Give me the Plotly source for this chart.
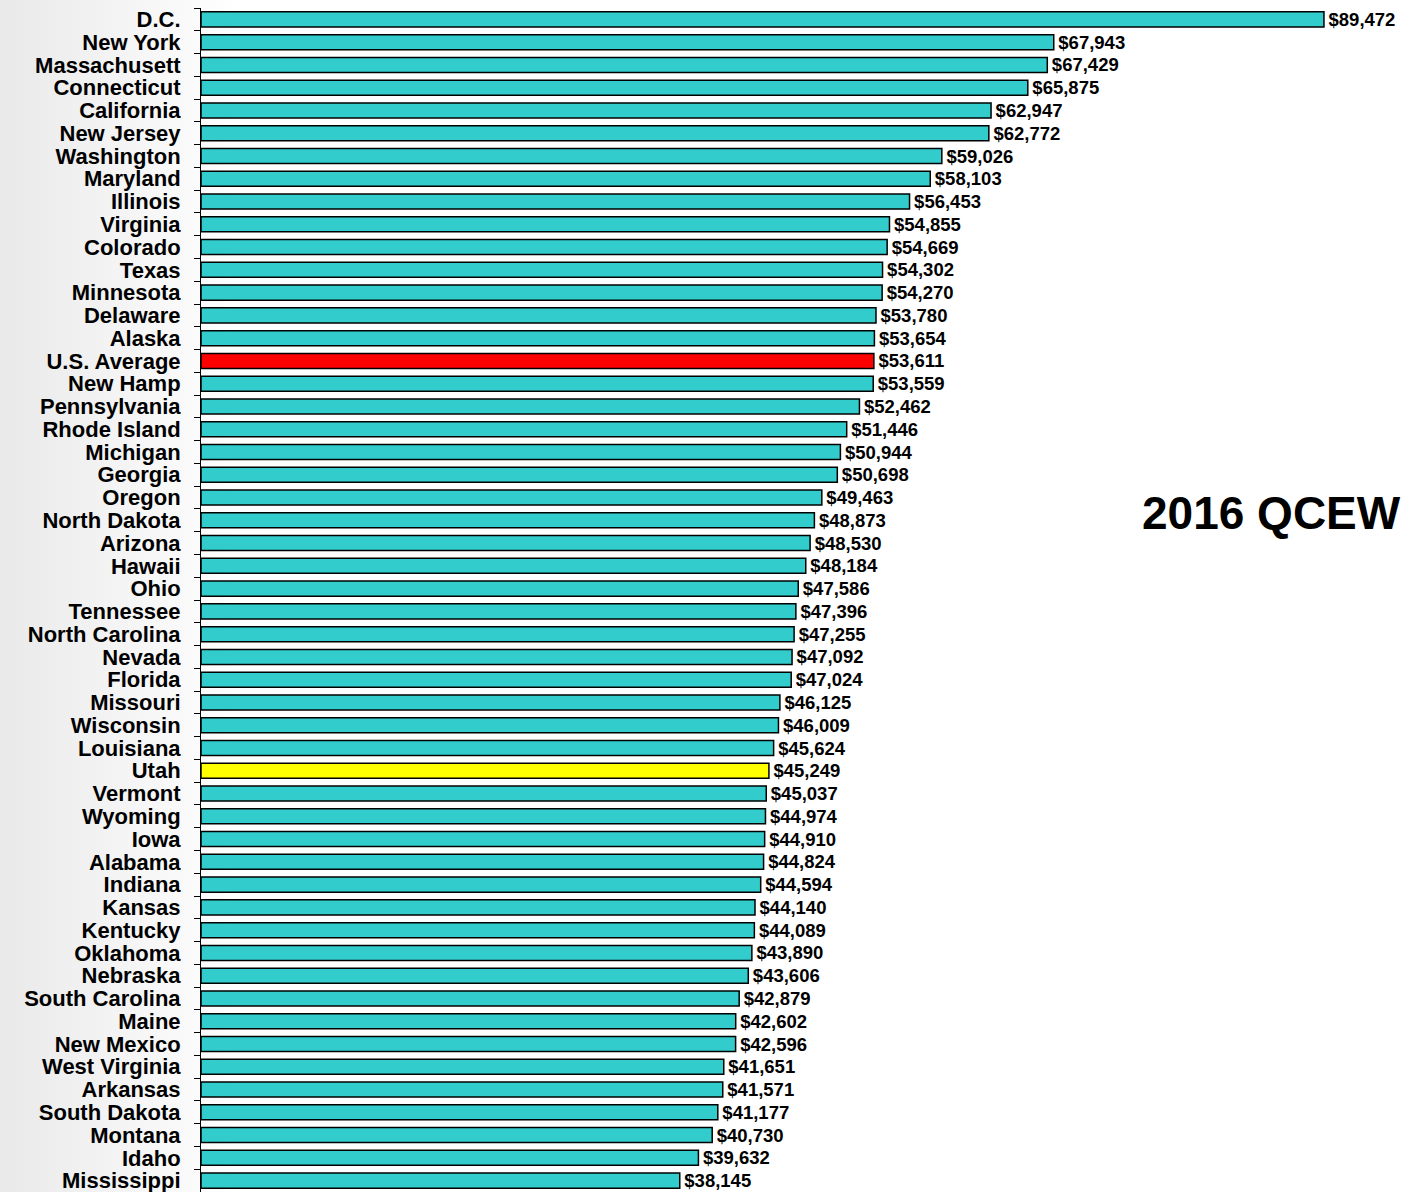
import plotly.graph_objects as go

states = ["D.C.", "New York", "Massachusett", "Connecticut", "California", "New Jersey",
          "Washington", "Maryland", "Illinois", "Virginia", "Colorado", "Texas", "Minnesota",
          "Delaware", "Alaska", "U.S. Average", "New Hamp", "Pennsylvania", "Rhode Island",
          "Michigan", "Georgia", "Oregon", "North Dakota", "Arizona", "Hawaii", "Ohio",
          "Tennessee", "North Carolina", "Nevada", "Florida", "Missouri", "Wisconsin",
          "Louisiana", "Utah", "Vermont", "Wyoming", "Iowa", "Alabama", "Indiana", "Kansas",
          "Kentucky", "Oklahoma", "Nebraska", "South Carolina", "Maine", "New Mexico",
          "West Virginia", "Arkansas", "South Dakota", "Montana", "Idaho", "Mississippi"]
wages = [89472, 67943, 67429, 65875, 62947, 62772, 59026, 58103, 56453, 54855, 54669,
         54302, 54270, 53780, 53654, 53611, 53559, 52462, 51446, 50944, 50698, 49463,
         48873, 48530, 48184, 47586, 47396, 47255, 47092, 47024, 46125, 46009, 45624,
         45249, 45037, 44974, 44910, 44824, 44594, 44140, 44089, 43890, 43606, 42879,
         42602, 42596, 41651, 41571, 41177, 40730, 39632, 38145]
highlight = {"U.S. Average": "#FF0000", "Utah": "#FFFF00"}
base_color = "#33CCCC"
title_text = "2016 QCEW"

colors = [highlight.get(s, base_color) for s in states]

W, H = 1401, 1192
ML, MT = 201, 8
FONT = "Liberation Sans, Arial, sans-serif"

fig = go.Figure(go.Bar(
    x=wages, y=states, orientation="h",
    marker=dict(color=colors, line=dict(color="black", width=1.5)),
    texttemplate="\u200a$%{x:,.0f}", textposition="outside", constraintext="none",
    textfont=dict(family=FONT, size=18.5, color="black", weight="bold"),
    cliponaxis=False, hoverinfo="skip",
))

# soft grey gradient at the left edge of the slide background
shapes = []
n = 30
span = 240
for i in range(n):
    px0 = i * span / n
    px1 = (i + 1) * span / n
    t = i / (n - 1)
    g = int(234 + (255 - 234) * t)
    shapes.append(dict(type="rect", xref="paper", yref="paper",
                       x0=(px0 - ML) / (W - ML), x1=(px1 - ML) / (W - ML) + 0.001,
                       y0=-0.01, y1=1.01, fillcolor=f"rgb({g},{g},{g})",
                       line=dict(width=0), layer="below"))

fig.update_layout(
    width=W, height=H,
    margin=dict(l=ML, r=0, t=MT, b=0),
    paper_bgcolor="#ffffff", plot_bgcolor="rgba(0,0,0,0)",
    bargap=0.34, showlegend=False,
    shapes=shapes,
    xaxis=dict(range=[0, 95610], showticklabels=False, showgrid=False,
               zeroline=False, showline=False),
    yaxis=dict(autorange="reversed", showline=True, linecolor="black", linewidth=1,
               tickmode="array", tickvals=states,
               ticks="outside", tickson="boundaries", ticklen=6, tickcolor="black",
               tickwidth=1, ticklabelstandoff=15, showgrid=False,
               tickfont=dict(family=FONT, size=22, color="black", weight="bold")),
    annotations=[dict(text=title_text, xref="paper", yref="paper",
                      x=(1140 - ML) / (W - ML), y=1 - (513 - MT) / (H - MT),
                      xanchor="left", yanchor="middle", showarrow=False,
                      font=dict(family=FONT, size=46, color="black", weight="bold"))],
)

fig.write_html("out.html", config={"displayModeBar": False},
               post_script="document.body.style.margin='0';document.body.style.overflow='hidden';")
